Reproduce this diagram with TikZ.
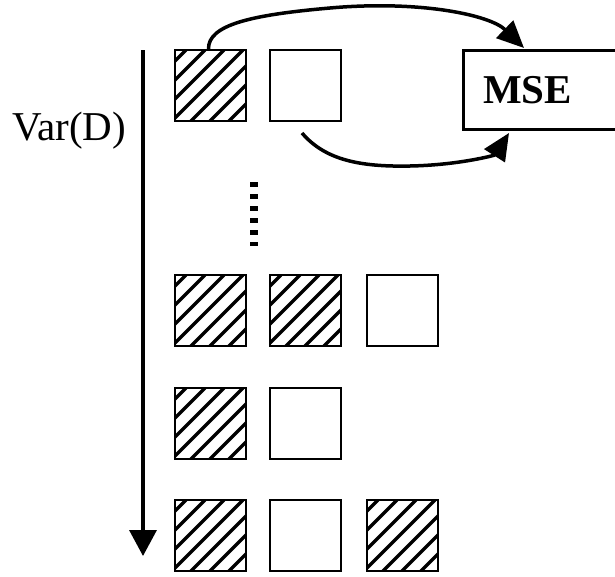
\documentclass[tikz,border=0pt]{standalone}
\usepackage{fontspec}
\setmainfont{Liberation Serif}
\usetikzlibrary{arrows.meta,calc}
\begin{document}
\begin{tikzpicture}[x=1pt,y=-1pt,
  box/.style={draw,line width=2pt,minimum size=71pt,inner sep=0pt},
  hatched/.style={box,path picture={
     \foreach \s in {11,30,...,150}
       \draw[line width=3.5pt] ([xshift=\s pt]path picture bounding box.north west) -- ++(-90pt,-90pt);}},
  conn/.style={line width=3.5pt},
  bigtip/.style={-{Triangle[length=27pt,width=24pt]}}]
\useasboundingbox (0,0) rectangle (615,576);
\clip (0,0) rectangle (615,576);
% squares
\node[hatched] (h11) at (210.5,85.5) {};
\node[box]     (e12) at (305.5,85.5) {};
\node[hatched] (h21) at (210.5,310.5) {};
\node[hatched] (h22) at (305.5,310.5) {};
\node[box]     (e23) at (402.5,310.5) {};
\node[hatched] (h31) at (210.5,423.5) {};
\node[box]     (e32) at (305.5,423.5) {};
\node[hatched] (h41) at (210.5,535.5) {};
\node[box]     (e42) at (305.5,535.5) {};
\node[hatched] (h43) at (402.5,535.5) {};
% MSE box
\node[draw,line width=3pt,minimum width=180pt,minimum height=79pt,anchor=north west,inner sep=0pt] (mse) at (462,49) {};
\node[anchor=base west,inner sep=0pt,font=\fontsize{41}{41}\selectfont\bfseries] (msetext) at (483,103) {MSE};
% Var(D)
\node[anchor=base west,inner sep=0pt,font=\fontsize{41}{41}\selectfont] (var) at (12,140) {Var(D)};
\coordinate (vtop) at (143,50);
\coordinate (vbot) at (143,556);
\draw[conn,-{Triangle[length=26pt,width=27pt]}] (vtop) -- (vbot);
% dots
\coordinate (d1) at (254,182);
\coordinate (d2) at (254,246);
\draw[line width=8pt,dash pattern=on 5pt off 7pt] (d1) -- (d2);
% curved arrows
\coordinate (ttip) at (524,48);
\draw[conn,bigtip] ([xshift=-2pt]h11.north) .. controls (208,25) and (250,15) .. (330,8)
   .. controls (420,0) and (490,15) .. (ttip);
\coordinate (lstart) at (302,133);
\coordinate (ltip) at (509,133);
\draw[conn,bigtip] (lstart) .. controls (325,160) and (360,167) .. (410,166)
   .. controls (460,165) and (495,155) .. (ltip);
\end{tikzpicture}
\end{document}
